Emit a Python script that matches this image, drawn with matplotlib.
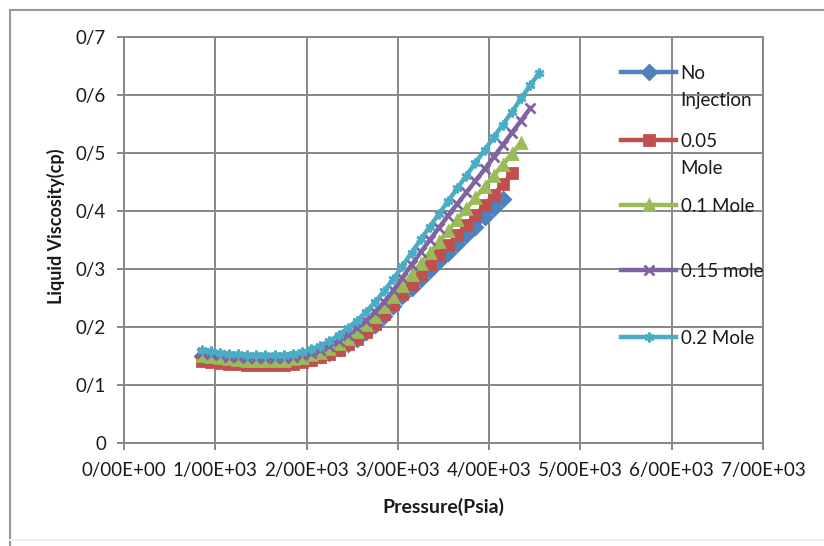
import matplotlib
matplotlib.use("Agg")
import matplotlib.pyplot as plt
from matplotlib.lines import Line2D

plt.rcParams['font.family'] = ['Lato', 'DejaVu Sans']

# pressure points (psia), shared by all series
pressure = [850, 950, 1050, 1150, 1250, 1350, 1450, 1550, 1650, 1750,
            1850, 1950, 2050, 2150, 2250, 2350, 2450, 2550, 2650, 2750,
            2850, 2950, 3050, 3150, 3250, 3350, 3450, 3550, 3650, 3750,
            3850, 3950, 4050, 4150, 4250, 4350, 4450, 4550]

visc_none = [.150, .147, .145, .143, .142, .141, .140, .140, .140, .141,
             .142, .144, .147, .151, .156, .163, .171, .180, .191, .204,
             .219, .236, .253, .268, .283, .298, .313, .328, .343, .358,
             .373, .389, .405, .421]
visc_005 = [.142, .140, .138, .137, .136, .135, .135, .134, .134, .135,
            .137, .139, .143, .148, .154, .161, .170, .180, .192, .206,
            .222, .239, .257, .274, .291, .308, .325, .342, .359, .376,
            .393, .410, .428, .446, .465]
visc_01 = [.150, .148, .146, .144, .143, .142, .141, .141, .141, .142,
           .144, .147, .151, .156, .162, .170, .180, .191, .204, .218,
           .234, .252, .271, .290, .309, .328, .347, .366, .385, .404,
           .423, .442, .461, .480, .499, .518]
visc_015 = [.155, .153, .151, .149, .148, .147, .146, .146, .146, .147,
            .149, .152, .156, .161, .168, .176, .186, .198, .211, .226,
            .243, .263, .285, .307, .329, .350, .371, .392, .412, .432,
            .452, .472, .493, .514, .535, .556, .577]
visc_02 = [.160, .158, .156, .154, .153, .152, .151, .151, .151, .152,
           .154, .157, .162, .168, .176, .186, .198, .211, .226, .243,
           .262, .283, .305, .328, .351, .373, .395, .417, .439, .461,
           .483, .505, .527, .549, .571, .594, .617, .638]

labels = ['No\nInjection', '0.05\nMole', '0.1 Mole', '0.15 mole', '0.2 Mole']
series = [visc_none, visc_005, visc_01, visc_015, visc_02]
colors = ['#4F81BD', '#C0504D', '#9BBB59', '#8064A2', '#4BACC6']
markers = ['D', 's', '^', 'x', (6, 2, 0)]

xticks = [0, 1000, 2000, 3000, 4000, 5000, 6000, 7000]
xlabels = ['0/00E+00', '1/00E+03', '2/00E+03', '3/00E+03',
           '4/00E+03', '5/00E+03', '6/00E+03', '7/00E+03']
yticks = [0, 0.1, 0.2, 0.3, 0.4, 0.5, 0.6, 0.7]
ylabels = ['0', '0/1', '0/2', '0/3', '0/4', '0/5', '0/6', '0/7']

fig = plt.figure(figsize=(8.24, 5.46), dpi=100)
ax = fig.add_axes([124/824, 103/546, 639/824, 406/546])

grid_col = '#878787'
txt_col = '#1a1a1a'
for i in range(len(series)):
    v = series[i]
    ax.plot(pressure[:len(v)], v, color=colors[i], lw=3.2, marker=markers[i],
            ms=7, mew=2.0, mfc=colors[i], mec=colors[i], zorder=3 + i)

ax.set_xlim(0, 7000)
ax.set_ylim(0, 0.7)
ax.set_xticks(xticks)
ax.set_xticklabels(xlabels, fontsize=13.5)
ax.set_yticks(yticks)
ax.set_yticklabels(ylabels, fontsize=13.5)
ax.grid(True, color=grid_col, lw=1.4)
ax.set_axisbelow(True)
for s in ax.spines.values():
    s.set_color(grid_col)
    s.set_linewidth(1.4)
ax.tick_params(colors=grid_col, length=5, width=1.4, labelcolor=txt_col)
ax.tick_params(axis='x', pad=9)
ax.tick_params(axis='y', pad=8)

ax.set_xlabel('Pressure(Psia)', fontsize=14, fontweight='bold', color=txt_col)
ax.xaxis.set_label_coords(0.5, -0.135)
ax.set_ylabel('Liquid Viscosity(cp)', fontsize=13, fontweight='bold', color=txt_col)
ax.yaxis.set_label_coords(-0.092, 0.535)

# legend drawn by hand to keep Excel's layout
rows = [0.914, 0.746, 0.586, 0.426, 0.261]
for i in range(len(series)):
    y = rows[i]
    ax.add_line(Line2D([0.778, 0.864], [y, y], transform=ax.transAxes,
                       color=colors[i], lw=3.2, zorder=10))
    ax.add_line(Line2D([0.821], [y], transform=ax.transAxes, color=colors[i],
                       marker=markers[i], ms=7, mew=2.0, zorder=11))
    ax.text(0.871, y + 0.018, labels[i], transform=ax.transAxes, fontsize=13.5,
            va='top', ha='left', color=txt_col, linespacing=1.75, zorder=12)

# outer chart frame (left, top, bottom)
fig.add_artist(Line2D([10/824, 10/824], [0, 1 - 10/546], color='#999999', lw=1.5))
fig.add_artist(Line2D([10/824, 1], [1 - 10/546, 1 - 10/546], color='#999999', lw=1.5))
fig.add_artist(Line2D([10/824, 1], [6/546, 6/546], color='#eeeeee', lw=1.5))

fig.savefig('out.png', dpi=100)
